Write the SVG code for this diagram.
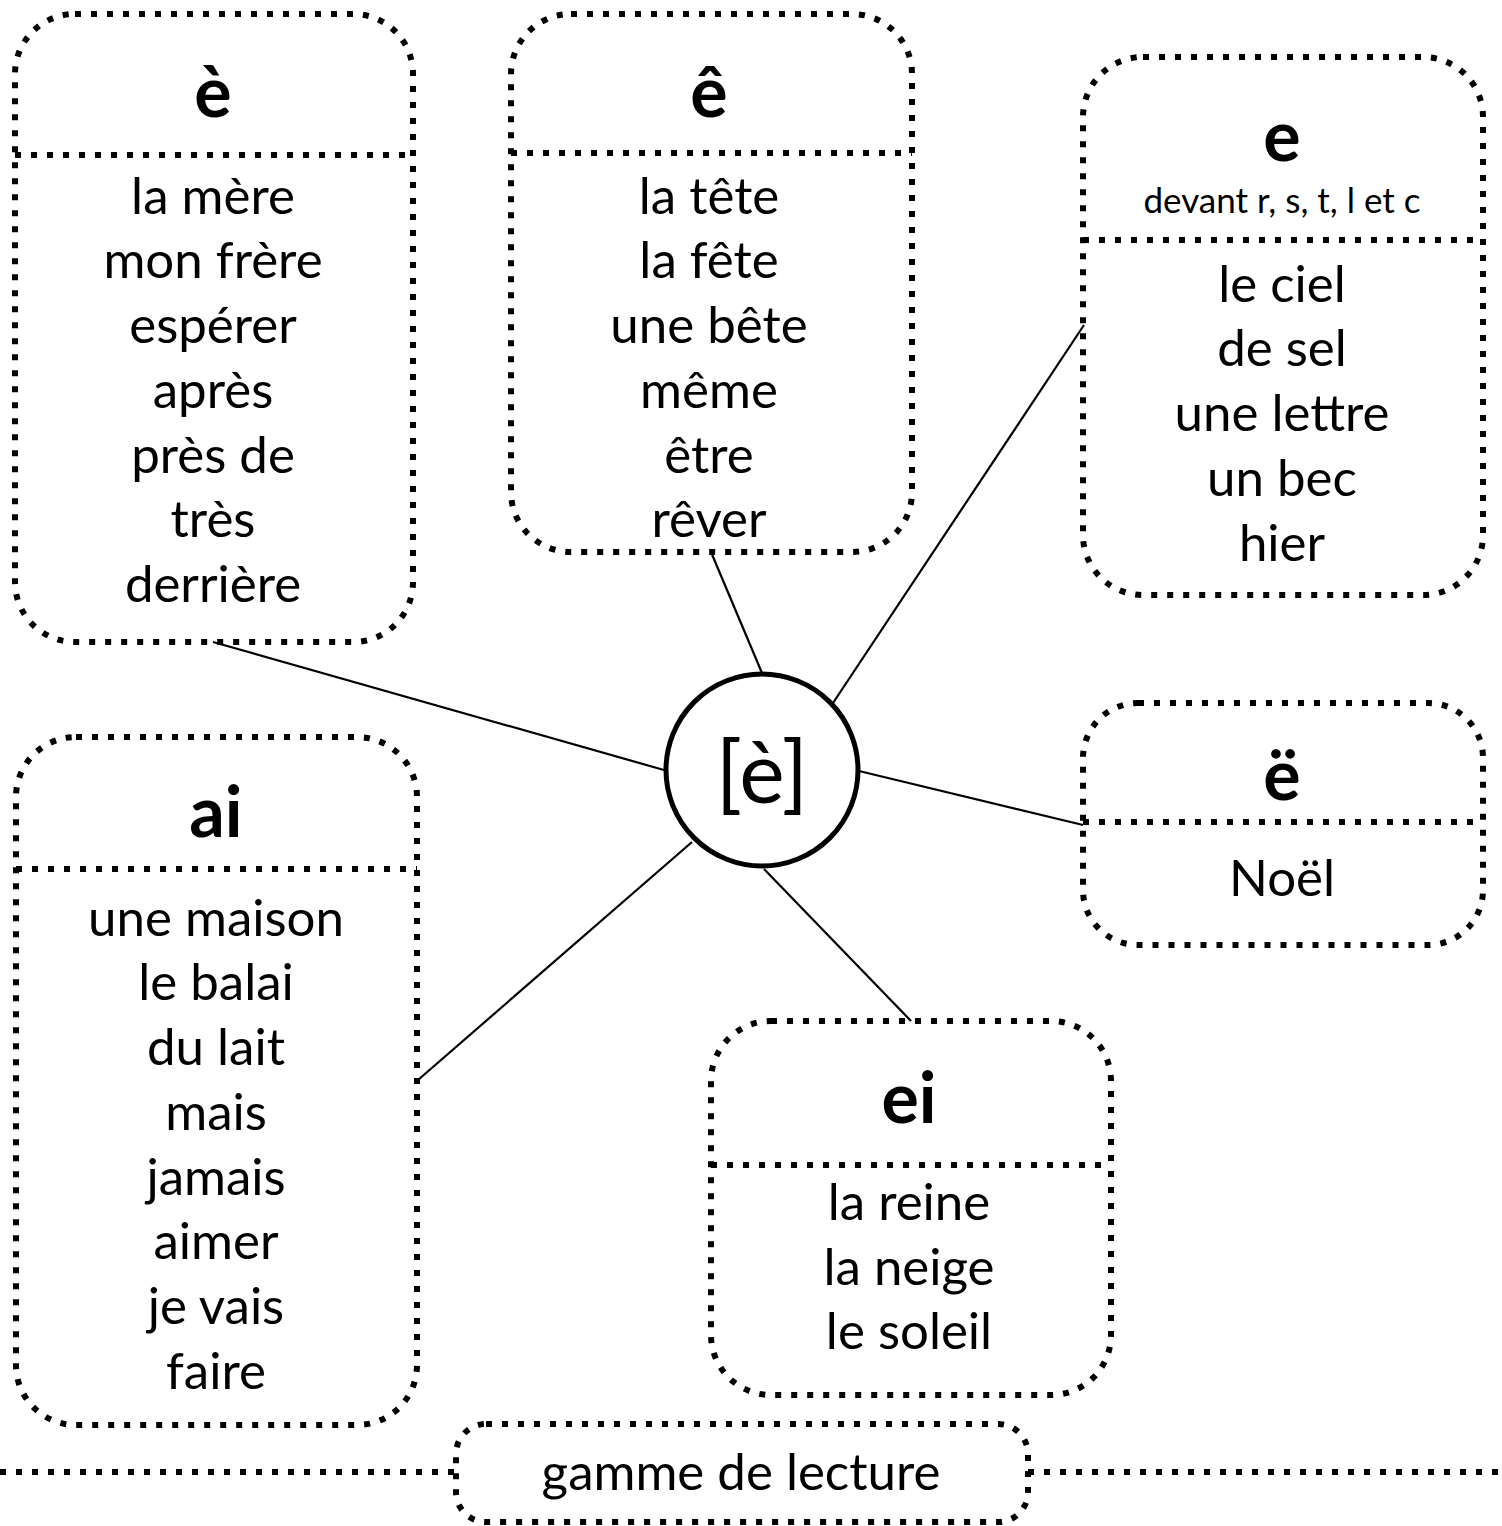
<svg xmlns="http://www.w3.org/2000/svg" width="1502" height="1526" viewBox="0 0 1502 1526">
<style>
.box{fill:none;stroke:#000;stroke-width:6;stroke-dasharray:6 10}
.div{fill:none;stroke:#000;stroke-width:6;stroke-dasharray:6 10}
.conn{stroke:#000;stroke-width:2.2;fill:none}
text{font-family:Lato,"Open Sans","Liberation Sans",sans-serif;fill:#000;text-anchor:middle}
.w{font-size:51px}
.t{font-size:70px;font-weight:bold}
.s{font-size:35px}
</style>
<rect width="1502" height="1526" fill="#fff"/>
<g id="connectors">
<line class="conn" x1="213" y1="642" x2="664" y2="770"/>
<line class="conn" x1="711" y1="552" x2="762" y2="673"/>
<line class="conn" x1="1084" y1="325" x2="833" y2="703"/>
<line class="conn" x1="859" y1="771" x2="1083" y2="825"/>
<line class="conn" x1="418" y1="1080" x2="692" y2="842"/>
<line class="conn" x1="764" y1="869" x2="911" y2="1021"/>
<line class="div" x1="0" y1="1472" x2="456" y2="1472"/>
<line class="div" x1="1028" y1="1472" x2="1502" y2="1472"/>
</g>
<g id="center">
<circle cx="762" cy="770" r="96" fill="#fff" stroke="#000" stroke-width="5"/>
<text x="762" y="803" style="font-size:86px">[è]</text>
</g>
<g id="box-e-grave">
<rect class="box" x="15" y="14" width="398" height="628" rx="60"/>
<line class="div" x1="15" y1="155" x2="413" y2="155"/>
<text class="t" x="213" y="117">è</text>
<text class="w" x="213" y="214">la mère</text>
<text class="w" x="213" y="278">mon frère</text>
<text class="w" x="213" y="343">espérer</text>
<text class="w" x="213" y="408">après</text>
<text class="w" x="213" y="473">près de</text>
<text class="w" x="213" y="537">très</text>
<text class="w" x="213" y="602">derrière</text>
</g>
<g id="box-e-circ">
<rect class="box" x="511" y="14" width="401" height="538" rx="60"/>
<line class="div" x1="511" y1="153" x2="912" y2="153"/>
<text class="t" x="709" y="117">ê</text>
<text class="w" x="709" y="214">la tête</text>
<text class="w" x="709" y="278">la fête</text>
<text class="w" x="709" y="343">une bête</text>
<text class="w" x="709" y="408">même</text>
<text class="w" x="709" y="473">être</text>
<text class="w" x="709" y="537">rêver</text>
</g>
<g id="box-e">
<rect class="box" x="1083" y="57" width="400" height="538" rx="60"/>
<line class="div" x1="1083" y1="240" x2="1483" y2="240"/>
<text class="t" x="1282" y="161">e</text>
<text class="s" x="1282" y="213">devant r, s, t, l et c</text>
<text class="w" x="1282" y="302">le ciel</text>
<text class="w" x="1282" y="366">de sel</text>
<text class="w" x="1282" y="431">une lettre</text>
<text class="w" x="1282" y="496">un bec</text>
<text class="w" x="1282" y="561">hier</text>
</g>
<g id="box-e-trema">
<rect class="box" x="1083" y="703" width="400" height="242" rx="55"/>
<line class="div" x1="1083" y1="822" x2="1483" y2="822"/>
<text class="t" x="1282" y="800">ë</text>
<text class="w" x="1282" y="896">Noël</text>
</g>
<g id="box-ai">
<rect class="box" x="16" y="737" width="401" height="688" rx="60"/>
<line class="div" x1="16" y1="869" x2="417" y2="869"/>
<text class="t" x="216" y="837">ai</text>
<text class="w" x="216" y="936">une maison</text>
<text class="w" x="216" y="1000">le balai</text>
<text class="w" x="216" y="1065">du lait</text>
<text class="w" x="216" y="1130">mais</text>
<text class="w" x="216" y="1195">jamais</text>
<text class="w" x="216" y="1259">aimer</text>
<text class="w" x="216" y="1324">je vais</text>
<text class="w" x="216" y="1389">faire</text>
</g>
<g id="box-ei">
<rect class="box" x="711" y="1021" width="400" height="374" rx="60"/>
<line class="div" x1="711" y1="1165" x2="1111" y2="1165"/>
<text class="t" x="909" y="1123">ei</text>
<text class="w" x="909" y="1220">la reine</text>
<text class="w" x="909" y="1285">la neige</text>
<text class="w" x="909" y="1349">le soleil</text>
</g>
<g id="footer">
<rect class="box" x="456" y="1424" width="572" height="98" rx="30"/>
<text class="w" x="741" y="1490">gamme de lecture</text>
</g>
</svg>
